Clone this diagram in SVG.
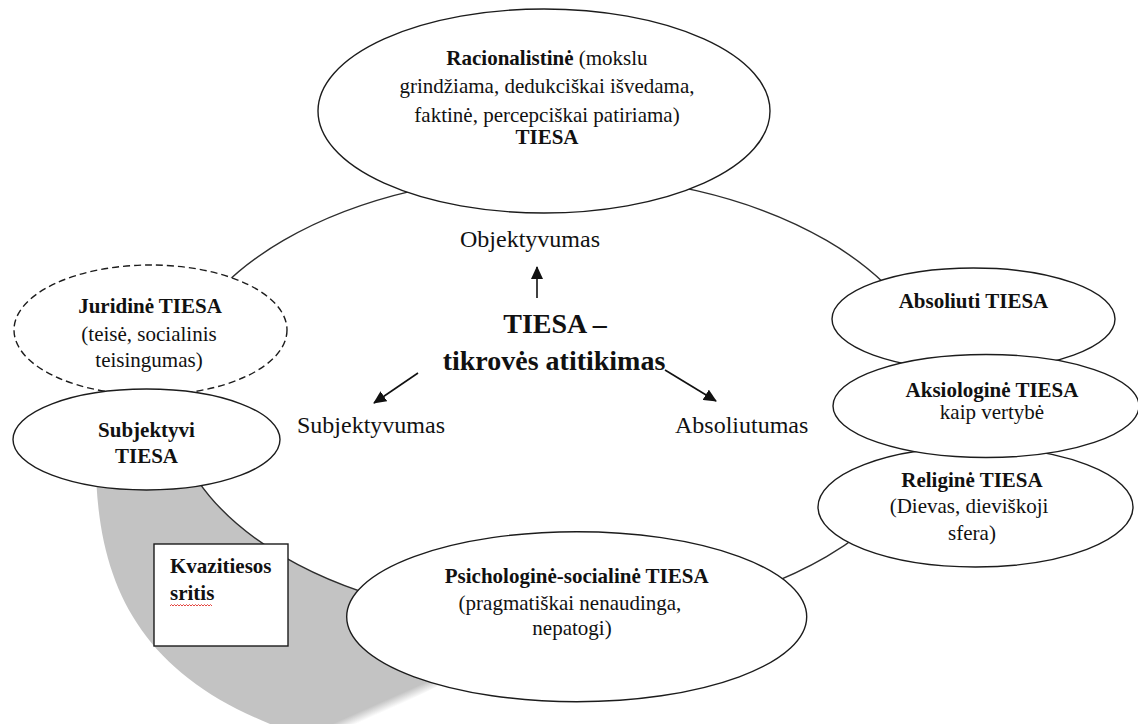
<svg xmlns="http://www.w3.org/2000/svg" width="1138" height="724" viewBox="0 0 1138 724">
  <style>
    .node { fill: #ffffff; stroke: #1c1c1c; stroke-width: 1.4; }
    .dashed { stroke-dasharray: 7 4; }
    .ring { fill: #ffffff; stroke: #2e2e2e; stroke-width: 1.4; }
    .t { font-family: "Liberation Serif", "Times New Roman", serif; font-size: 21px; fill: #111111; }
    .b { font-weight: bold; }
    .mid { text-anchor: middle; }
    .lbl { font-size: 24px; }
    .big { font-size: 28px; font-weight: bold; }
    .arrow { stroke: #111111; stroke-width: 1.6; fill: none; marker-end: url(#head); }
  </style>
  <defs>
    <marker id="head" viewBox="0 0 13 12" refX="12" refY="6" markerWidth="13" markerHeight="12" markerUnits="userSpaceOnUse" orient="auto">
      <path d="M0,0 L13,6 L0,12 Z" fill="#111111"/>
    </marker>
    <linearGradient id="fade" gradientUnits="userSpaceOnUse" x1="388" y1="699" x2="392" y2="708">
      <stop offset="0" stop-color="#c3c3c3"/>
      <stop offset="1" stop-color="#c3c3c3" stop-opacity="0"/>
    </linearGradient>
  </defs>

  <rect width="1138" height="724" fill="#ffffff"/>

  <!-- grey quasi-truth band along the lower left -->
  <path id="kvazi-band" d="M96,440 C92,580 135,680 300,735 L320,745 L470,670 L420,480 Z" fill="url(#fade)"/>

  <!-- connectors: the large ring joining the nodes, and the three arrows -->
  <g id="connectors">
    <ellipse class="ring" cx="555" cy="398.5" rx="384" ry="223.5"/>
    <line class="arrow" x1="537" y1="298" x2="537" y2="267"/>
    <line class="arrow" x1="418" y1="373" x2="374" y2="403"/>
    <line class="arrow" x1="665" y1="370" x2="716" y2="401"/>
  </g>

  <!-- centre labels -->
  <g id="center">
    <text class="t lbl mid" x="530" y="247">Objektyvumas</text>
    <text class="t big mid" x="555" y="333">TIESA –</text>
    <text class="t big mid" x="554" y="370">tikrovės atitikimas</text>
    <text class="t lbl" x="297" y="433">Subjektyvumas</text>
    <text class="t lbl" x="675" y="433">Absoliutumas</text>
  </g>

  <g id="racionalistine">
    <ellipse class="node" cx="544" cy="111" rx="226" ry="102"/>
    <text class="t mid" x="547" y="65"><tspan class="b">Racionalistinė</tspan> (mokslu</text>
    <text class="t mid" x="547" y="93">grindžiama, dedukciškai išvedama,</text>
    <text class="t mid" x="547" y="122">faktinė, percepciškai patiriama)</text>
    <text class="t b mid" x="547" y="144">TIESA</text>
  </g>

  <g id="juridine">
    <ellipse class="node dashed" cx="150.5" cy="330" rx="136.5" ry="65"/>
    <text class="t b mid" x="150" y="313">Juridinė TIESA</text>
    <text class="t mid" x="149" y="341">(teisė, socialinis</text>
    <text class="t mid" x="149" y="367">teisingumas)</text>
  </g>

  <g id="subjektyvi">
    <ellipse class="node" cx="146.5" cy="439.5" rx="133.5" ry="50.5"/>
    <text class="t b mid" x="146.5" y="437">Subjektyvi</text>
    <text class="t b mid" x="146.5" y="463">TIESA</text>
  </g>

  <g id="absoliuti">
    <ellipse class="node" cx="973.5" cy="319" rx="141.5" ry="51"/>
    <text class="t b mid" x="973.5" y="308">Absoliuti TIESA</text>
  </g>

  <g id="religine">
    <ellipse class="node" cx="975.5" cy="507" rx="157.5" ry="60"/>
    <text class="t b mid" x="972" y="487">Religinė TIESA</text>
    <text class="t mid" x="969" y="513">(Dievas, dieviškoji</text>
    <text class="t mid" x="972" y="540">sfera)</text>
  </g>

  <g id="aksiologine">
    <ellipse class="node" cx="986" cy="406" rx="153" ry="51.5"/>
    <text class="t b mid" x="992" y="397">Aksiologinė TIESA</text>
    <text class="t mid" x="992" y="419">kaip vertybė</text>
  </g>

  <g id="psichologine">
    <ellipse class="node" cx="576.7" cy="616.7" rx="230" ry="85"/>
    <text class="t b mid" x="576.7" y="583">Psichologinė-socialinė TIESA</text>
    <text class="t mid" x="570" y="610">(pragmatiškai nenaudinga,</text>
    <text class="t mid" x="572" y="635">nepatogi)</text>
  </g>

  <g id="kvazitiesos">
    <rect x="154" y="544" width="134" height="102" fill="#ffffff" stroke="#1c1c1c" stroke-width="1.4"/>
    <text class="t b" x="170" y="573">Kvazitiesos</text>
    <text class="t b" x="170" y="600">sritis</text>
    <path d="M170,606 l1.5,-1.5 l1.5,1.5 l1.5,-1.5 l1.5,1.5 l1.5,-1.5 l1.5,1.5 l1.5,-1.5 l1.5,1.5 l1.5,-1.5 l1.5,1.5 l1.5,-1.5 l1.5,1.5 l1.5,-1.5 l1.5,1.5 l1.5,-1.5 l1.5,1.5 l1.5,-1.5 l1.5,1.5 l1.5,-1.5 l1.5,1.5 l1.5,-1.5 l1.5,1.5 l1.5,-1.5 l1.5,1.5 l1.5,-1.5 l1.5,1.5 l1.5,-1.5 l1.5,1.5" fill="none" stroke="#e0302a" stroke-width="0.9"/>
  </g>
</svg>
